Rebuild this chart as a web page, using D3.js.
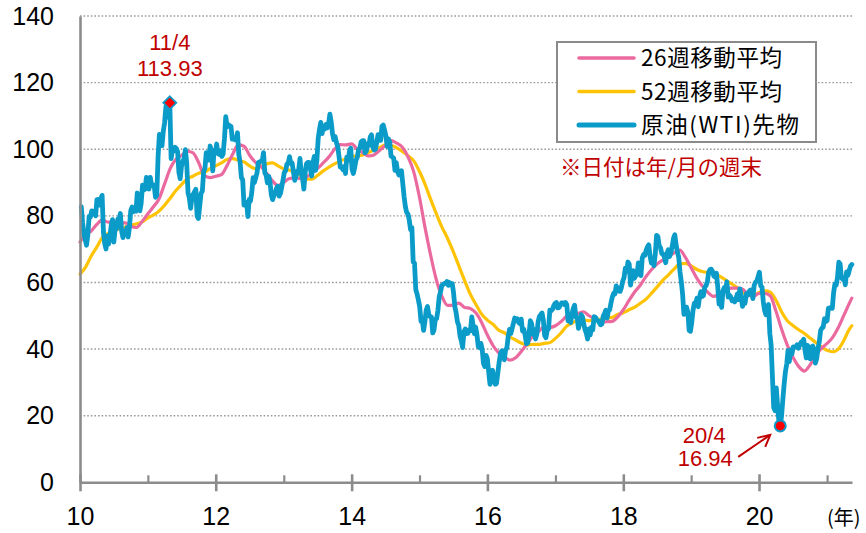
<!DOCTYPE html>
<html lang="ja">
<head>
<meta charset="utf-8">
<script src="https://cdn.jsdelivr.net/npm/d3@7"></script>
<style>
  html, body { margin: 0; padding: 0; background: #fff; }
  svg { display: block; }
</style>
</head>
<body>
<svg id="chart" width="866" height="533"></svg>
<script>
// ---- data -------------------------------------------------------------
// WTI crude futures, weekly (Friday) close, USD/bbl, first week ends 2010-01-08
const wtiFirstWeek = "2010-01-08";
const wtiWeekly = [
  // 2010
  82.75,78.00,74.54,72.89, 71.19,74.13,79.81,79.66, 81.50,81.24,80.68,80.00,
  84.87,84.92,83.24,85.12,86.15, 75.11,71.61,70.04,73.97, 71.51,73.78,77.18,78.86,
  72.14,76.09,76.01,78.98,78.95, 80.70,75.39,73.46,75.17, 74.60,76.45,73.66,76.49,
  81.58,82.66,81.25,81.69,81.43, 86.85,84.88,81.51,83.76, 89.19,87.79,88.02,91.51,91.38,
  // 2011
  88.03,91.54,89.11,89.34, 89.03,85.58,86.20,97.88, 104.42,101.16,101.07,105.40,
  107.94,112.79,109.66,112.29,113.93, 97.18,99.65,99.49,100.59, 100.22,99.29,93.01,91.16,
  94.94,96.20,97.24,99.87,95.70, 86.88,85.38,82.26,85.37, 86.45,87.24,87.96,79.85,79.20,
  82.98,86.80,87.40,93.32, 94.26,98.99,97.41,96.77, 100.96,99.41,93.53,99.68,98.83,
  // 2012
  101.56,98.70,98.46,99.56, 97.84,98.67,103.24,109.77, 106.70,107.40,107.06,106.87,103.02,
  103.31,102.83,103.05,104.93, 98.49,96.13,91.48,90.86, 83.23,84.10,84.03,79.76,84.96,
  84.45,87.10,91.44,89.95, 91.40,92.87,96.01,96.15,96.47, 96.42,99.00,92.89,92.19,
  89.88,91.86,90.05,86.28, 84.86,86.07,86.92,88.28,88.91, 85.93,86.73,88.66,90.80,
  // 2013
  93.09,93.56,95.56,95.88, 97.77,95.72,95.86,93.13, 90.68,91.95,93.45,93.71,97.23,
  92.70,91.29,88.01,93.00, 95.61,96.04,96.02,94.15,91.97, 96.03,97.85,93.69,96.56,
  103.22,105.95,108.05,104.70, 106.94,106.03,107.46,106.42,107.65, 110.53,108.21,104.67,102.87,
  103.84,102.02,100.81,97.85, 94.61,94.60,93.84,94.84,92.72, 97.65,96.60,99.32,100.32,
  // 2014
  93.96,92.72,94.37,96.64,97.49, 99.88,100.30,102.20,102.59, 102.58,98.89,99.46,101.67,
  101.14,103.74,104.30,100.60, 99.76,99.99,102.02,104.35,102.71, 102.66,106.91,107.26,105.74,
  104.06,100.83,103.13,102.09, 97.88,97.65,97.35,93.65,95.96, 93.29,92.27,92.41,93.54,
  89.74,85.82,82.75,81.01,80.54, 78.65,75.82,76.51,66.15, 65.84,57.81,56.52,54.73,
  // 2015
  52.69,48.36,48.69,45.59,48.24, 51.69,52.78,50.34,49.76, 49.61,44.84,45.72,48.87,
  49.14,51.64,55.74,57.15, 59.15,59.39,59.69,59.72,60.30, 59.13,59.96,59.61,59.63,
  56.93,52.74,50.89,48.14,47.12, 43.87,42.50,40.45,45.22, 46.05,44.63,44.68,45.70,
  45.54,49.63,47.26,44.60,46.59, 44.29,40.74,40.39,41.71, 39.97,35.62,34.73,38.10,
  // 2016
  37.04,33.16,29.42,32.19,33.62, 30.89,29.44,29.64,32.78, 35.92,38.50,39.44,39.46,
  36.79,39.72,40.36,43.73,45.92, 44.66,46.21,47.75,49.33, 48.62,49.07,47.98,47.64,
  48.99,45.41,45.95,44.19,41.60, 41.80,44.49,48.52,47.64, 44.44,45.88,43.03,44.48,48.24,
  49.81,50.35,50.85,48.70, 44.07,43.41,45.69,46.06, 51.68,51.50,51.90,53.02,53.72,
  // 2017
  53.99,52.37,52.42,53.17, 53.83,53.86,53.40,53.99, 53.33,48.49,48.78,47.97,50.60,
  52.24,53.18,49.62,49.33, 46.22,47.84,50.33,49.80, 47.66,45.83,44.74,43.01,46.04,
  44.23,46.54,45.77,49.71, 49.58,48.82,48.51,47.87, 47.29,47.48,49.89,50.66,51.67,
  49.29,51.45,51.84,53.90, 55.64,56.74,56.55,58.95, 58.36,57.36,57.30,58.47,60.42,
  // 2018
  61.44,64.30,63.37,66.14, 65.45,59.20,61.68,63.55, 61.25,62.04,62.34,65.88,64.94,
  62.06,67.39,68.38,68.10, 69.72,70.70,71.28,67.88, 65.81,65.74,65.06,68.58,74.15,
  73.80,71.01,70.46,68.69, 68.49,67.63,65.91,68.72,69.80, 67.75,68.99,70.78,73.25,
  74.34,71.34,69.12,67.59, 63.14,60.19,56.46,50.42,50.93, 52.61,51.20,45.59,45.33,
  // 2019
  47.96,51.59,53.80,53.69, 55.26,52.72,55.59,57.26, 55.80,56.07,58.52,59.04,60.14,
  63.08,63.89,64.00,63.30, 61.94,61.66,62.76,58.63,53.50, 54.29,52.51,57.43,58.47,
  57.51,60.21,55.63,56.20, 55.66,54.50,54.87,54.17,55.10, 56.52,54.85,58.09,55.91,
  52.81,54.70,53.78,56.66, 56.20,57.24,57.72,57.77,55.17, 59.20,60.07,60.44,61.72,
  // 2020
  63.05,59.04,58.54,54.19,51.56, 50.32,52.05,53.38,44.76, 41.28,31.73,22.43,21.51,
  28.34,22.76,18.27,16.94, 19.78,24.74,29.43,33.25,35.49, 39.55,36.26,39.75,38.49,
  40.65,40.55,40.59,41.29,40.27, 41.22,42.01,42.34,42.97, 39.77,37.33,41.11,40.25,
  37.05,40.60,40.88,39.85,35.79, 37.14,40.13,42.15,45.53, 46.26,46.57,49.10,48.23,
  // 2021
  48.52,52.24,52.36,52.27,52.20, 56.85,59.47,59.24,61.50, 66.09,65.61,61.42,60.97,
  61.45,59.32,63.13,62.14,63.58, 64.90,65.37
];

// Moving averages, sampled at the start of each month from 2010-01,
// the last value belongs to maLastDate
const maFirstMonth = "2010-01-01";
const maLastDate = "2021-05-14";
const ma26 = [
  72.1,74.5,75.4,77.4,78.8,78.1,78.2,77.9,77.9,76.9,76.5,78.3,
  80.6,82.8,85.0,89.6,94.2,97.0,98.1,99.4,98.9,96.0,92.1,91.5,
  91.9,92.4,95.0,98.5,101.3,100.9,98.2,96.1,94.8,92.8,90.5,89.1,
  90.1,91.2,91.4,91.2,91.6,92.9,94.2,95.9,97.7,100.0,101.4,101.3,
  101.6,99.9,99.0,98.0,98.3,99.7,101.1,102.6,101.8,100.6,97.6,93.2,
  85.5,76.1,68.4,60.9,55.9,53.1,53.2,53.8,52.5,52.2,50.8,48.0,
  44.2,41.0,38.9,37.6,36.7,37.4,39.3,41.5,43.9,45.2,46.7,46.5,
  47.0,48.3,49.8,50.5,50.7,51.2,50.0,49.0,48.1,48.2,48.3,49.6,
  51.8,54.6,57.0,59.1,61.6,63.8,65.5,66.7,67.7,68.9,69.7,67.5,
  64.4,61.2,59.0,57.0,55.8,56.5,57.3,58.3,58.3,58.1,56.5,55.8,
  56.7,56.7,56.0,51.4,46.0,41.2,37.6,34.8,33.4,35.2,38.1,40.2,
  41.7,43.6,46.3,50.1,53.8,
  55.3
];
const ma52 = [
  62.5,64.7,67.8,70.6,73.5,74.7,75.2,76.2,76.6,77.1,77.6,78.2,
  79.4,80.3,81.4,83.2,85.3,87.6,89.4,91.1,91.9,92.8,93.1,94.2,
  95.0,95.9,96.9,97.2,96.7,96.2,95.0,94.2,94.9,95.6,95.9,95.0,
  94.1,93.7,93.1,92.0,91.0,91.0,92.1,93.5,94.6,95.6,96.5,97.1,
  97.9,97.9,98.3,99.0,99.8,100.5,101.3,101.2,100.4,99.3,98.0,96.5,
  93.3,89.3,85.1,80.7,76.7,73.2,69.3,64.9,60.5,56.5,53.3,50.5,
  48.7,47.4,45.7,44.9,43.7,42.7,41.8,41.2,41.4,41.4,41.7,41.9,
  43.2,44.9,46.8,47.8,48.7,48.8,48.5,48.7,49.0,49.3,49.5,50.4,
  50.9,51.8,52.5,53.7,54.9,56.7,58.6,60.6,62.3,64.0,65.6,65.7,
  65.0,63.9,63.3,63.0,62.8,62.0,60.9,59.8,58.6,57.5,56.1,56.1,
  57.0,57.5,57.1,54.7,51.2,48.5,47.1,45.8,44.7,43.3,42.0,40.7,
  39.6,39.2,39.9,42.6,46.0,
  47.0
];

const seriesNames = ["26週移動平均", "52週移動平均", "原油(WTI)先物"];
const yTicks = [0, 20, 40, 60, 80, 100, 120, 140];
const xMajorYears = [2010, 2012, 2014, 2016, 2018, 2020];
const xMinorYears = [2011, 2013, 2015, 2017, 2019, 2021];
const axisUnit = "(年)";
const noteText = "※日付は年/月の週末";

// highlighted weeks
const peakDate = "2011-04-29", peakLabel = "11/4", peakValue = 113.93;
const lowDate  = "2020-04-24", lowLabel  = "20/4", lowValue  = 16.94;

// ---- styling ----------------------------------------------------------
const C = {
  wti: "#0b9bc9",
  ma26: "#ea6aa0",
  ma52: "#ffc305",
  grid: "#9a9a9a",
  axis: "#8c8c8c",
  red: "#c00000",
  dot: "#ff0000"
};
const NUM_FONT = "'Liberation Sans', Arial, sans-serif";
const JP_FONT = "'Noto Sans CJK JP', 'Noto Sans', sans-serif";

// ---- build series -----------------------------------------------------
const parse = d3.utcParse("%Y-%m-%d");
const wtiStart = parse(wtiFirstWeek);
const wtiData = wtiWeekly.map((v, i) => ({ date: d3.utcDay.offset(wtiStart, 7 * i), value: v }));

const maStart = parse(maFirstMonth);
const maDate = i => (i < ma26.length - 1) ? d3.utcMonth.offset(maStart, i) : parse(maLastDate);
const ma26Data = ma26.map((v, i) => ({ date: maDate(i), value: v }));
const ma52Data = ma52.map((v, i) => ({ date: maDate(i), value: v }));

// ---- scales -----------------------------------------------------------
const plot = { left: 80, right: 852, top: 16, bottom: 482.3 };
const x = d3.scaleUtc()
  .domain([new Date(Date.UTC(2010, 0, 1)), new Date(Date.UTC(2021, 4, 15))])
  .range([plot.left, plot.right]);
const y = d3.scaleLinear().domain([0, 140]).range([plot.bottom, plot.top]);
const yearDate = yr => new Date(Date.UTC(yr, 0, 1));

const svg = d3.select("#chart");

// ---- gridlines --------------------------------------------------------
svg.append("g")
  .selectAll("line")
  .data(yTicks.filter(t => t > 0))
  .join("line")
  .attr("x1", plot.left).attr("x2", plot.right)
  .attr("y1", d => y(d)).attr("y2", d => y(d))
  .attr("stroke", C.grid)
  .attr("stroke-width", 1.4)
  .attr("stroke-dasharray", "1.6,2");

// ---- lines ------------------------------------------------------------
const smooth = d3.line().x(d => x(d.date)).y(d => y(d.value)).curve(d3.curveMonotoneX);
const jagged = d3.line().x(d => x(d.date)).y(d => y(d.value));

svg.append("path").datum(ma52Data)
  .attr("d", smooth).attr("fill", "none")
  .attr("stroke", C.ma52).attr("stroke-width", 3.2)
  .attr("stroke-linejoin", "round").attr("stroke-linecap", "round");

svg.append("path").datum(ma26Data)
  .attr("d", smooth).attr("fill", "none")
  .attr("stroke", C.ma26).attr("stroke-width", 3.2)
  .attr("stroke-linejoin", "round").attr("stroke-linecap", "round");

svg.append("path").datum(wtiData)
  .attr("d", jagged).attr("fill", "none")
  .attr("stroke", C.wti).attr("stroke-width", 4.8)
  .attr("stroke-linejoin", "round").attr("stroke-linecap", "round");

// ---- axes -------------------------------------------------------------
const yAxis = svg.append("g")
  .attr("transform", `translate(${plot.left},0)`)
  .call(d3.axisLeft(y).tickValues(yTicks).tickSize(0).tickSizeOuter(0).tickPadding(26));
yAxis.select(".domain").attr("stroke", C.axis).attr("stroke-width", 2.6);
yAxis.selectAll("text")
  .attr("font-family", NUM_FONT).attr("font-size", 25).attr("fill", "#000");

const xMinor = svg.append("g")
  .attr("transform", `translate(0,${plot.bottom})`)
  .call(d3.axisBottom(x).tickValues(xMinorYears.map(yearDate)).tickSize(-7).tickSizeOuter(0).tickFormat(""));
xMinor.select(".domain").remove();
xMinor.selectAll("line").attr("stroke", C.axis).attr("stroke-width", 2.2);

const xAxis = svg.append("g")
  .attr("transform", `translate(0,${plot.bottom})`)
  .call(d3.axisBottom(x).tickValues(xMajorYears.map(yearDate))
    .tickSize(9).tickSizeOuter(0).tickPadding(16).tickFormat(d3.utcFormat("%y")));
xAxis.select(".domain").attr("stroke", C.axis).attr("stroke-width", 2.6);
xAxis.selectAll(".tick line").attr("stroke", C.axis).attr("stroke-width", 2.6).attr("y1", -8);
xAxis.selectAll("text")
  .attr("font-family", NUM_FONT).attr("font-size", 25).attr("fill", "#000");

svg.append("text")
  .attr("x", 827).attr("y", 525)
  .attr("font-family", JP_FONT).attr("font-size", 20).attr("fill", "#000")
  .text(axisUnit);

// ---- legend -----------------------------------------------------------
const legend = svg.append("g");
legend.append("rect")
  .attr("x", 557).attr("y", 42).attr("width", 259).attr("height", 100)
  .attr("fill", "#fff").attr("stroke", "#8a8a8a").attr("stroke-width", 2);
const legendRows = [
  { name: seriesNames[0], color: C.ma26, w: 3.6, len: 141 },
  { name: seriesNames[1], color: C.ma52, w: 3.6, len: 141 },
  { name: seriesNames[2], color: C.wti, w: 5, len: 158 }
];
legendRows.forEach((r, i) => {
  const cy = 58 + i * 33.5;
  legend.append("line")
    .attr("x1", 579).attr("x2", 634).attr("y1", cy).attr("y2", cy)
    .attr("stroke", r.color).attr("stroke-width", r.w).attr("stroke-linecap", "round");
  legend.append("text")
    .attr("x", 641).attr("y", cy).attr("dy", "0.36em")
    .attr("font-family", JP_FONT).attr("font-size", 22.5).attr("fill", "#000")
    .attr("textLength", r.len).attr("lengthAdjust", "spacing")
    .text(r.name);
});

svg.append("text")
  .attr("x", 560).attr("y", 167).attr("dy", "0.36em")
  .attr("font-family", JP_FONT).attr("font-size", 21.5).attr("fill", C.red)
  .text(noteText);

// ---- highlighted points ---------------------------------------------
const peak = wtiData.find(d => +d.date === +parse(peakDate));
const low = wtiData.find(d => +d.date === +parse(lowDate));

const px = x(peak.date), py = y(peakValue);
svg.append("path")
  .attr("d", `M${px},${py - 6.5}L${px + 6.5},${py}L${px},${py + 6.5}L${px - 6.5},${py}Z`)
  .attr("fill", C.dot).attr("stroke", C.wti).attr("stroke-width", 1.8);
svg.append("text")
  .attr("x", px).attr("y", py - 61).attr("text-anchor", "middle").attr("dy", "0.36em")
  .attr("font-family", NUM_FONT).attr("font-size", 22).attr("fill", C.red)
  .text(peakLabel);
svg.append("text")
  .attr("x", px).attr("y", py - 35).attr("text-anchor", "middle").attr("dy", "0.36em")
  .attr("font-family", NUM_FONT).attr("font-size", 22).attr("fill", C.red)
  .text(peakValue.toFixed(2));

const lx = x(low.date), ly = y(lowValue);
svg.append("circle")
  .attr("cx", lx).attr("cy", ly).attr("r", 5.5)
  .attr("fill", C.dot).attr("stroke", C.wti).attr("stroke-width", 2);
svg.append("text")
  .attr("x", lx - 76).attr("y", ly + 9).attr("text-anchor", "middle").attr("dy", "0.36em")
  .attr("font-family", NUM_FONT).attr("font-size", 22).attr("fill", C.red)
  .text(lowLabel);
svg.append("text")
  .attr("x", lx - 75).attr("y", ly + 32).attr("text-anchor", "middle").attr("dy", "0.36em")
  .attr("font-family", NUM_FONT).attr("font-size", 22).attr("fill", C.red)
  .text(lowValue.toFixed(2));

// arrow from the value label toward the low point
const ax0 = lx - 42, ay0 = ly + 31, ax1 = lx - 10, ay1 = ly + 9;
svg.append("line")
  .attr("x1", ax0).attr("y1", ay0).attr("x2", ax1).attr("y2", ay1)
  .attr("stroke", C.red).attr("stroke-width", 2);
svg.append("path")
  .attr("d", `M${ax1 - 13},${ay1 + 3}L${ax1},${ay1}L${ax1 - 5},${ay1 + 12}`)
  .attr("fill", "none").attr("stroke", C.red).attr("stroke-width", 2)
  .attr("stroke-linejoin", "miter");
</script>
</body>
</html>
